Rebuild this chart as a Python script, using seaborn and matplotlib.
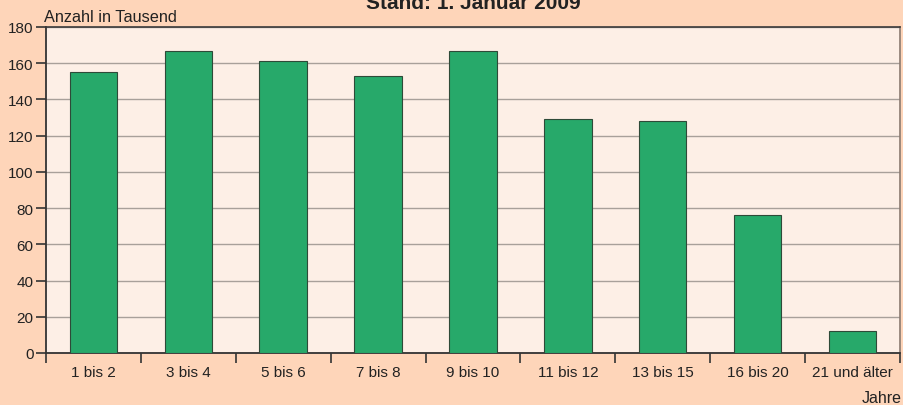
import numpy as np
import pandas as pd
import matplotlib
matplotlib.use("Agg")
import matplotlib.pyplot as plt
import seaborn as sns

# data
age_groups = ["1 bis 2", "3 bis 4", "5 bis 6", "7 bis 8", "9 bis 10",
              "11 bis 12", "13 bis 15", "16 bis 20", "21 und älter"]
counts = [155, 167, 161, 153, 167, 129, 128, 76, 12]
y_ticks = [0, 20, 40, 60, 80, 100, 120, 140, 160, 180]

df = pd.DataFrame({"Alter": age_groups, "Anzahl": counts})

sns.set_style("white")
plt.rcParams["font.family"] = ["Liberation Sans", "DejaVu Sans"]

fig = plt.figure(figsize=(9.04, 4.06), dpi=100, facecolor="#FED5B9")
ax = fig.add_axes([46/904, 52/406, 854/904, 326/406])
ax.set_facecolor("#FDEFE6")

sns.barplot(data=df, x="Alter", y="Anzahl", color="#27A96A", width=0.5,
            edgecolor="#2E4A38", linewidth=0.8, saturation=1, ax=ax, zorder=3)

ax.set_ylim(0, 180)
ax.set_xlim(-0.5, len(age_groups) - 0.5)
ax.set_yticks(y_ticks)
ax.yaxis.grid(True, color="#A8A09A", linewidth=1, zorder=0)
ax.set_axisbelow(True)

# category labels in the middle, tick marks at the borders
ax.set_xticks(range(len(age_groups)))
ax.set_xticklabels(age_groups)
ax.set_xticks(np.arange(-0.5, len(age_groups)), minor=True)
ax.tick_params(axis="x", which="major", bottom=True, length=0, pad=9,
               labelsize=11, labelcolor="#222222")
ax.tick_params(axis="x", which="minor", bottom=True, length=7, width=1.2,
               color="#333333", direction="out")
ax.tick_params(axis="y", left=True, length=7, width=1.2, color="#333333", direction="out",
               labelsize=11, labelcolor="#222222", pad=2)

for s in ["left", "bottom"]:
    ax.spines[s].set_color("#333333")
    ax.spines[s].set_linewidth(1.3)
ax.spines["top"].set_color("#3A3A3A")
ax.spines["top"].set_linewidth(1.2)
ax.spines["right"].set_color("#8A7A70")
ax.spines["right"].set_linewidth(1.2)

ax.set_xlabel("")
ax.set_ylabel("")
fig.text(44/904, 1 - 22/406, "Anzahl in Tausend", fontsize=11.7, color="#222222",
         ha="left", va="baseline")
fig.text(902/904, 1 - 403/406, "Jahre", fontsize=11.5, color="#222222",
         ha="right", va="baseline")
fig.text(473/904, 1 - 9/406, "Stand: 1. Januar 2009", fontsize=15, fontweight="bold",
         color="#222222", ha="center", va="baseline")

fig.savefig("out.png", dpi=100, facecolor=fig.get_facecolor())
